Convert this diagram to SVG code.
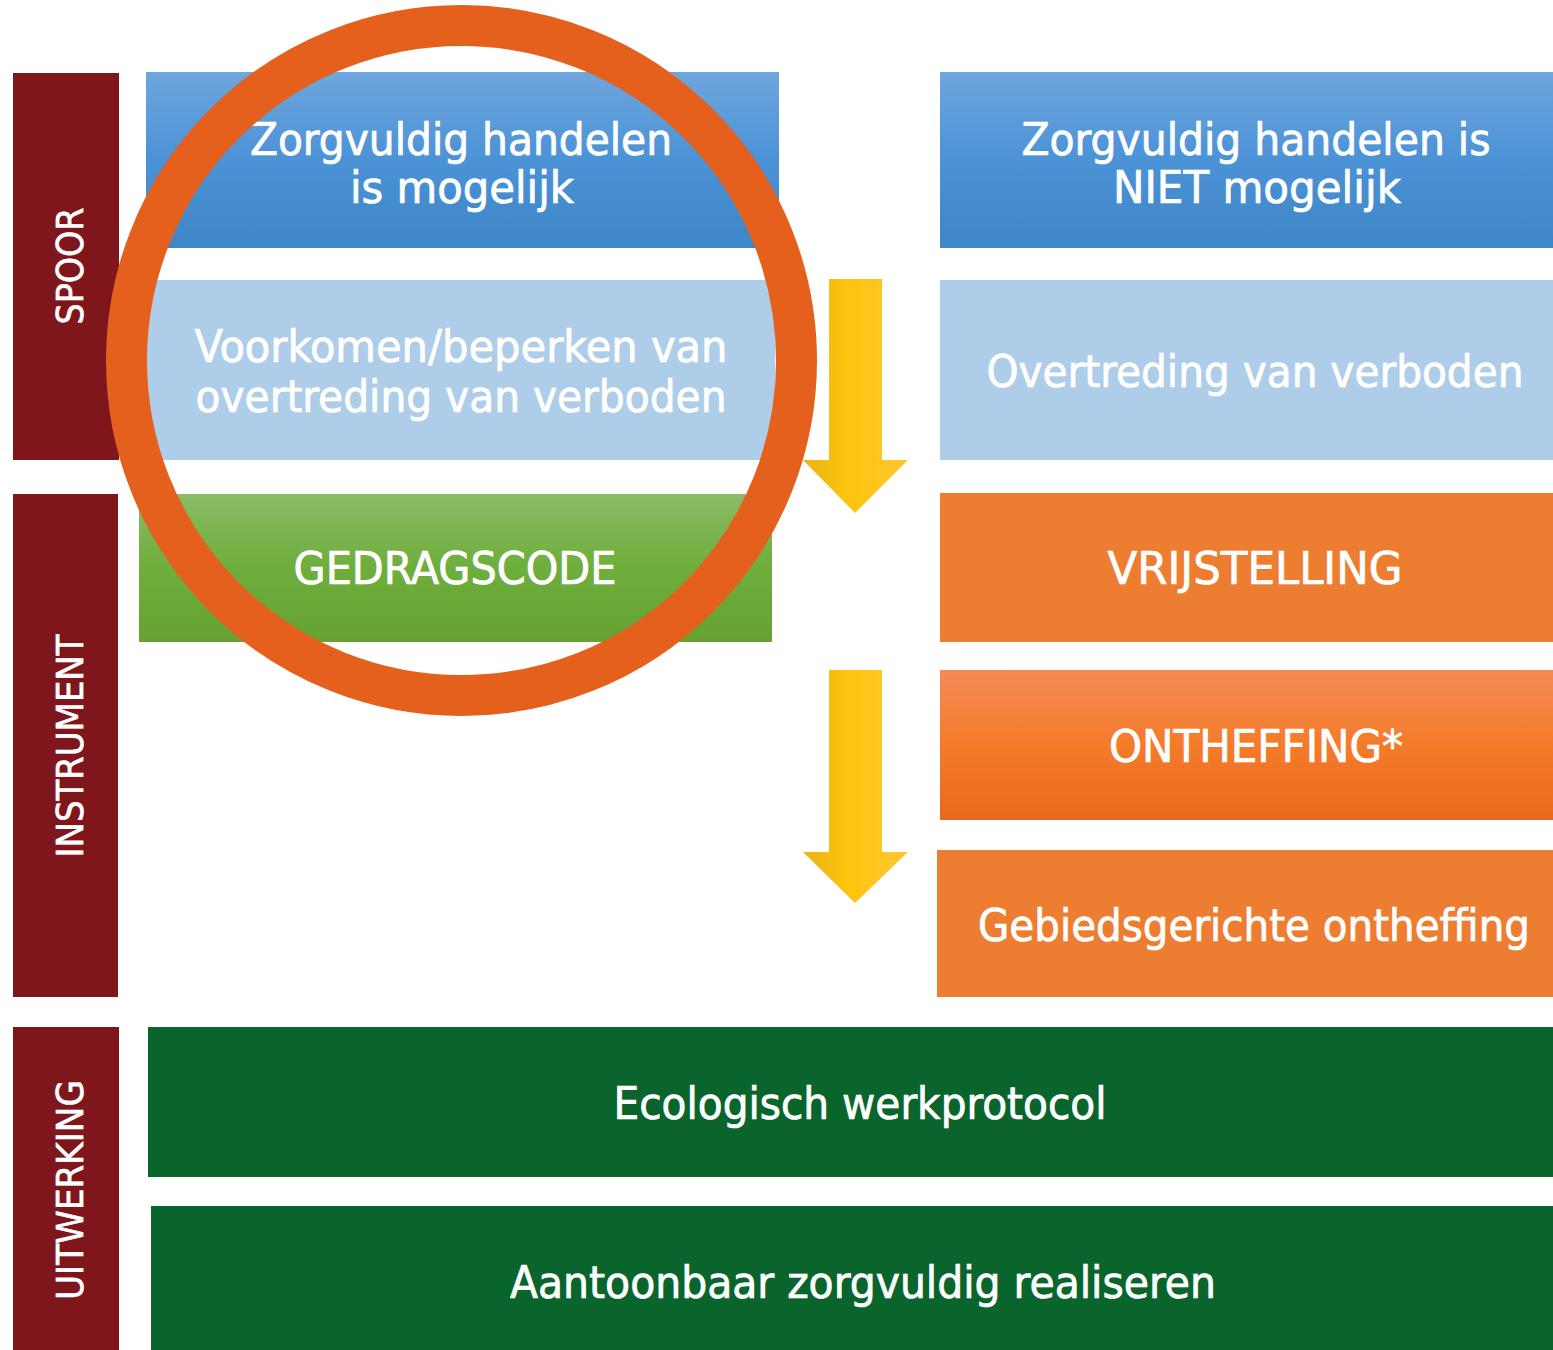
<svg xmlns="http://www.w3.org/2000/svg" width="1553" height="1350" viewBox="0 0 1553 1350">
<defs>
<linearGradient id="gBlue" x1="0" y1="0" x2="0" y2="1"><stop offset="0" stop-color="#6fa6dd"/><stop offset="0.5" stop-color="#4b92d6"/><stop offset="1" stop-color="#3f86c8"/></linearGradient>
<linearGradient id="gGreen" x1="0" y1="0" x2="0" y2="1"><stop offset="0" stop-color="#8bbb66"/><stop offset="0.5" stop-color="#6eae3c"/><stop offset="1" stop-color="#65a233"/></linearGradient>
<linearGradient id="gOrange" x1="0" y1="0" x2="0" y2="1"><stop offset="0" stop-color="#f28c56"/><stop offset="0.5" stop-color="#f57b2a"/><stop offset="1" stop-color="#e8691e"/></linearGradient>
<linearGradient id="gArrow" x1="0" y1="0" x2="1" y2="0"><stop offset="0" stop-color="#e9b417"/><stop offset="0.45" stop-color="#fdc50d"/><stop offset="1" stop-color="#ffc733"/></linearGradient>
<style>
.lbl{fill:#fff;stroke:#fff;stroke-width:0.7px;font-family:"DejaVu Sans Condensed","DejaVu Sans",sans-serif;font-size:44px;text-anchor:middle}
.side{fill:#fff;stroke:#fff;stroke-width:0.6px;font-family:"DejaVu Sans Condensed","DejaVu Sans",sans-serif;font-size:38px;text-anchor:middle}
.bar{fill:#7e161b}
.lb{fill:#aecde9}
.or{fill:#ed7d31}
.dg{fill:#0a652d}
</style>
</defs>
<g id="spoor"><rect class="bar" x="13" y="73" width="106" height="387"/><text class="side" transform="translate(83,266) rotate(-90)" textLength="117" lengthAdjust="spacingAndGlyphs">SPOOR</text></g>
<g id="instrument"><rect class="bar" x="13" y="494" width="105" height="503"/><text class="side" transform="translate(83,746) rotate(-90)" textLength="223" lengthAdjust="spacingAndGlyphs">INSTRUMENT</text></g>
<g id="uitwerking"><rect class="bar" x="13" y="1027" width="106" height="323"/><text class="side" transform="translate(83,1190) rotate(-90)" textLength="220" lengthAdjust="spacingAndGlyphs">UITWERKING</text></g>
<g id="mogelijk"><rect x="146" y="72" width="633" height="176" fill="url(#gBlue)"/><text class="lbl" x="461" y="155" textLength="422" lengthAdjust="spacingAndGlyphs">Zorgvuldig handelen</text><text class="lbl" x="462" y="203" textLength="224" lengthAdjust="spacingAndGlyphs">is mogelijk</text></g>
<g id="niet-mogelijk"><rect x="940" y="72" width="613" height="176" fill="url(#gBlue)"/><text class="lbl" x="1256" y="155" textLength="469" lengthAdjust="spacingAndGlyphs">Zorgvuldig handelen is</text><text class="lbl" x="1257" y="203" textLength="288" lengthAdjust="spacingAndGlyphs">NIET mogelijk</text></g>
<g id="voorkomen"><rect class="lb" x="147" y="280" width="628" height="180"/><text class="lbl" x="461" y="362" textLength="533" lengthAdjust="spacingAndGlyphs">Voorkomen/beperken van</text><text class="lbl" x="461" y="412" textLength="531" lengthAdjust="spacingAndGlyphs">overtreding van verboden</text></g>
<g id="overtreding"><rect class="lb" x="940" y="280" width="613" height="180"/><text class="lbl" x="1255" y="387" textLength="537" lengthAdjust="spacingAndGlyphs">Overtreding van verboden</text></g>
<g id="gedragscode"><rect x="139" y="494" width="633" height="148" fill="url(#gGreen)"/><text class="lbl" x="455" y="584" textLength="323" lengthAdjust="spacingAndGlyphs">GEDRAGSCODE</text></g>
<g id="vrijstelling"><rect class="or" x="940" y="493" width="613" height="149"/><text class="lbl" x="1255" y="584" textLength="295" lengthAdjust="spacingAndGlyphs">VRIJSTELLING</text></g>
<g id="ontheffing"><rect x="940" y="670" width="613" height="150" fill="url(#gOrange)"/><text class="lbl" x="1256" y="762" textLength="294" lengthAdjust="spacingAndGlyphs">ONTHEFFING*</text></g>
<g id="gebiedsgericht"><rect class="or" x="937" y="850" width="616" height="147"/><text class="lbl" x="1254" y="941" textLength="552" lengthAdjust="spacingAndGlyphs">Gebiedsgerichte ontheffing</text></g>
<g id="ecologisch"><rect class="dg" x="148" y="1027" width="1405" height="150"/><text class="lbl" x="860" y="1119" textLength="493" lengthAdjust="spacingAndGlyphs">Ecologisch werkprotocol</text></g>
<g id="aantoonbaar"><rect class="dg" x="151" y="1206" width="1402" height="144"/><text class="lbl" x="863" y="1298" textLength="706" lengthAdjust="spacingAndGlyphs">Aantoonbaar zorgvuldig realiseren</text></g>
<g id="connectors">
<polygon points="829,279 882,279 882,460 908,460 855,513 803,460 829,460" fill="url(#gArrow)"/>
<polygon points="829,670 882,670 882,852 908,852 855,903 803,852 829,852" fill="url(#gArrow)"/>
</g>
<g id="highlight"><circle cx="461.5" cy="360.5" r="335" fill="none" stroke="#e5601c" stroke-width="41"/></g>
</svg>
